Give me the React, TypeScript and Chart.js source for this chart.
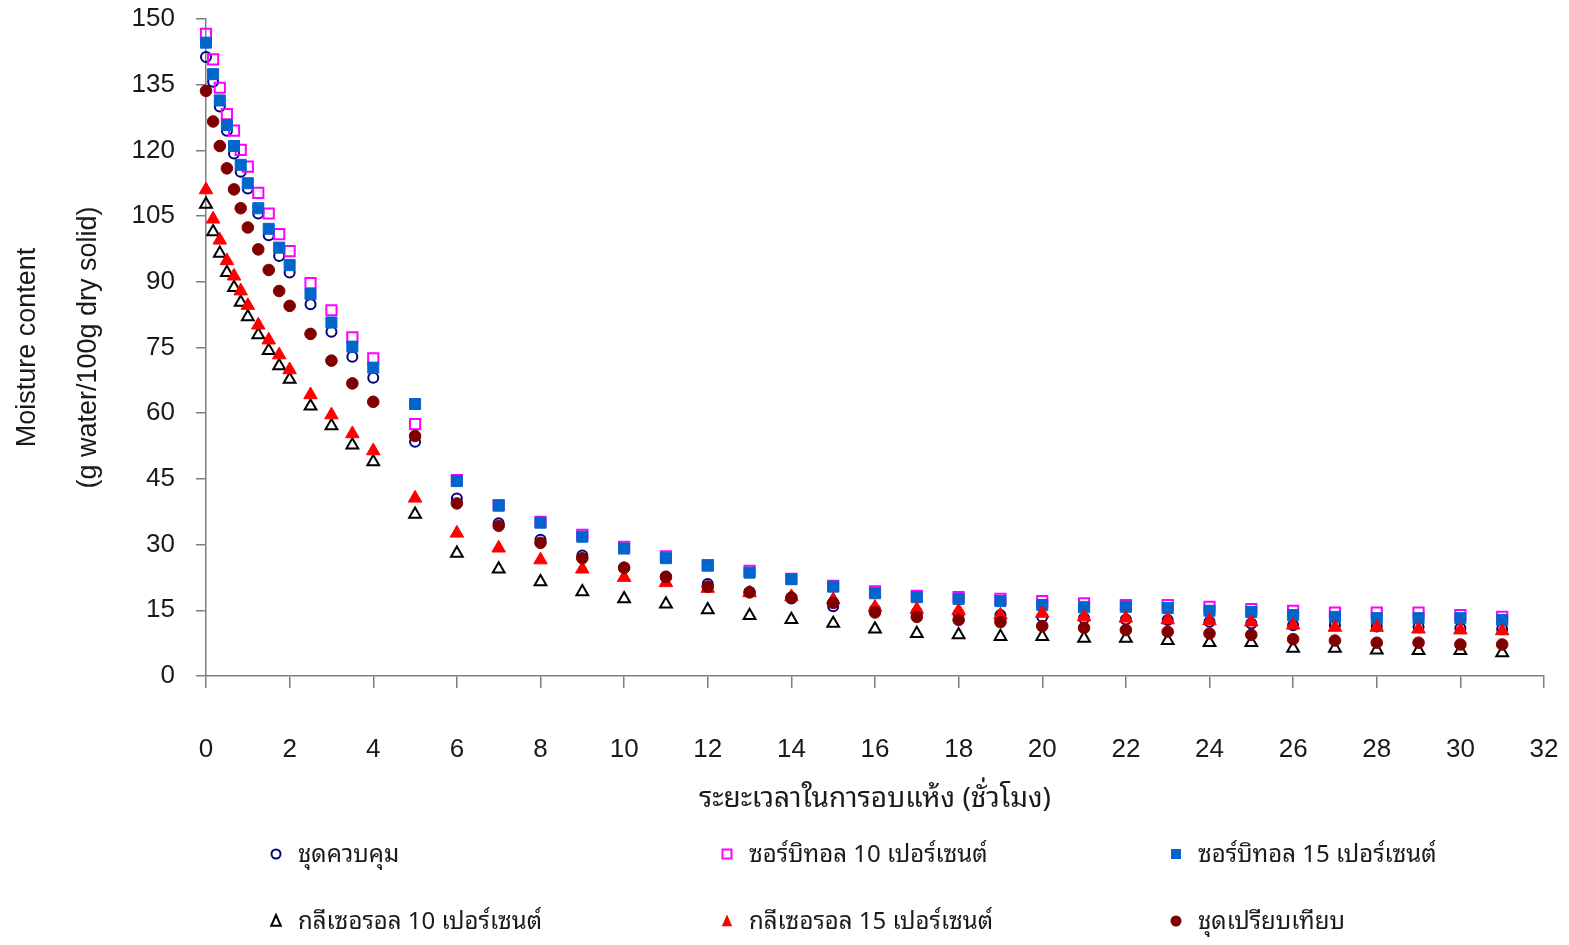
import React, { useEffect, useRef } from 'react';
import { Chart, registerables } from 'chart.js';

Chart.register(...registerables);

// Drying time (hours)
const hours = [
  0, 0.17, 0.33, 0.5, 0.67, 0.83, 1, 1.25, 1.5, 1.75, 2, 2.5, 3, 3.5, 4,
  5, 6, 7, 8, 9, 10, 11, 12, 13, 14, 15, 16, 17, 18, 19, 20, 21, 22, 23, 24,
  25, 26, 27, 28, 29, 30, 31,
];

// Moisture content (g water / 100 g dry solid)
const control = [
  141.3, 135.7, 130.0, 124.5, 119.3, 115.1, 111.3, 105.6, 100.6, 95.9, 92.1, 84.9, 78.6, 72.9, 68.1,
  53.5, 40.5, 34.9, 31.1, 27.5, 24.8, 22.7, 21.0, 19.2, 17.7, 15.9, 15.2, 14.5, 14.2, 13.9, 13.5,
  13.2, 12.9, 12.8, 12.4, 12.0, 11.6, 11.6, 11.3, 11.2, 10.9, 10.7,
];
const sorbitol10 = [
  146.6, 140.8, 134.3, 128.3, 124.5, 120.1, 116.3, 110.3, 105.6, 100.9, 97.0, 89.7, 83.5, 77.3, 72.5,
  57.5, 44.7, 39.0, 35.2, 32.2, 29.5, 27.3, 25.3, 24.0, 22.2, 20.6, 19.3, 18.3, 18.0, 17.6, 17.1,
  16.6, 16.2, 16.2, 15.8, 15.3, 14.9, 14.5, 14.5, 14.5, 13.9, 13.5,
];
const sorbitol15 = [
  144.6, 137.4, 131.4, 125.8, 121.0, 116.7, 112.5, 106.8, 102.1, 97.8, 93.8, 87.2, 80.7, 75.2, 70.4,
  62.1, 44.5, 38.9, 35.0, 31.8, 29.1, 26.9, 25.2, 23.6, 22.1, 20.4, 18.9, 18.0, 17.6, 17.1, 16.2,
  15.7, 15.8, 15.5, 14.9, 14.6, 13.9, 13.5, 13.2, 13.2, 13.2, 12.8,
];
const glycerol10 = [
  107.7, 101.4, 96.5, 92.1, 88.7, 85.3, 82.0, 77.9, 74.3, 70.8, 67.7, 61.6, 57.1, 52.7, 48.9,
  36.9, 28.0, 24.4, 21.5, 19.2, 17.6, 16.4, 15.1, 13.8, 12.9, 12.0, 10.7, 9.7, 9.4, 9.0, 9.0,
  8.6, 8.6, 8.1, 7.6, 7.6, 6.3, 6.3, 5.9, 5.8, 5.8, 5.3,
];
const glycerol15 = [
  111.0, 104.3, 99.5, 94.8, 91.3, 87.9, 84.6, 80.1, 76.7, 73.3, 69.9, 64.2, 59.6, 55.3, 51.4,
  40.6, 32.6, 29.2, 26.5, 24.4, 22.5, 21.3, 20.0, 19.0, 18.1, 17.4, 15.7, 15.2, 14.9, 13.9, 14.3,
  13.5, 13.2, 12.8, 12.6, 12.3, 11.6, 11.1, 11.1, 10.7, 10.5, 10.3,
];
const comparison = [
  133.6, 126.6, 121.0, 115.9, 111.1, 106.8, 102.4, 97.4, 92.7, 87.9, 84.5, 78.1, 72.0, 66.8, 62.6,
  54.8, 39.4, 34.3, 30.4, 26.9, 24.7, 22.6, 20.4, 19.1, 17.9, 16.7, 14.5, 13.5, 12.8, 12.3, 11.4,
  11.0, 10.5, 10.1, 9.7, 9.4, 8.4, 8.1, 7.6, 7.6, 7.2, 7.2,
];

const seriesLabels = [
  'ชุดควบคุม',
  'ซอร์บิทอล 10 เปอร์เซนต์',
  'ซอร์บิทอล 15 เปอร์เซนต์',
  'กลีเซอรอล 10 เปอร์เซนต์',
  'กลีเซอรอล 15 เปอร์เซนต์',
  'ชุดเปรียบเทียบ',
];

const xTitle = 'ระยะเวลาในการอบแห้ง (ชั่วโมง)';
const yTitle = ['Moisture content', '(g water/100g dry solid)'];

const LATIN_FONT = "'Liberation Sans', Arial, sans-serif";
const THAI_FONT =
  "'Noto Sans Thai Looped', Loma, Garuda, Norasi, 'Noto Sans Thai', 'Noto Sans', 'DejaVu Sans', sans-serif";

type MarkerSpec = {
  style: 'circle' | 'rect' | 'triangle';
  radius: number;
  fill: string;
  stroke: string;
  borderWidth: number;
  legendSize: number;
};

const markers: MarkerSpec[] = [
  { style: 'circle', radius: 5, fill: 'rgba(0,0,0,0)', stroke: '#000080', borderWidth: 2, legendSize: 4.5 },
  { style: 'rect', radius: 7.2, fill: 'rgba(0,0,0,0)', stroke: '#FF00FF', borderWidth: 2, legendSize: 4.5 },
  { style: 'rect', radius: 7.8, fill: '#0066CC', stroke: '#0066CC', borderWidth: 1, legendSize: 5 },
  { style: 'triangle', radius: 6.8, fill: 'rgba(0,0,0,0)', stroke: '#000000', borderWidth: 2, legendSize: 6 },
  { style: 'triangle', radius: 7.8, fill: '#FF0000', stroke: '#FF0000', borderWidth: 1, legendSize: 6.5 },
  { style: 'circle', radius: 5.8, fill: '#800000', stroke: '#800000', borderWidth: 1, legendSize: 5.5 },
];

const seriesValues = [control, sorbitol10, sorbitol15, glycerol10, glycerol15, comparison];

function drawLegendMarker(ctx: CanvasRenderingContext2D, m: MarkerSpec, x: number, y: number) {
  const s = m.legendSize;
  ctx.save();
  ctx.beginPath();
  if (m.style === 'circle') {
    ctx.arc(x, y, s, 0, Math.PI * 2);
  } else if (m.style === 'rect') {
    ctx.rect(x - s, y - s, 2 * s, 2 * s);
  } else {
    ctx.moveTo(x, y - s);
    ctx.lineTo(x + s * 0.8, y + s * 0.8);
    ctx.lineTo(x - s * 0.8, y + s * 0.8);
    ctx.closePath();
  }
  const filled = m.fill !== 'rgba(0,0,0,0)';
  if (filled) {
    ctx.fillStyle = m.fill;
    ctx.fill();
  } else {
    ctx.lineWidth = 2;
    ctx.strokeStyle = m.stroke;
    ctx.stroke();
  }
  ctx.restore();
}

// Two rows of three legend entries below the x axis
const gridLegend = {
  id: 'gridLegend',
  afterDraw(chart: any) {
    const ctx: CanvasRenderingContext2D = chart.ctx;
    const cols = [276, 727, 1176];
    const rows = [854, 921];
    ctx.save();
    ctx.font = `24px ${THAI_FONT}`;
    ctx.textBaseline = 'middle';
    ctx.textAlign = 'left';
    seriesLabels.forEach((label, i) => {
      const x = cols[i % 3];
      const y = rows[Math.floor(i / 3)];
      drawLegendMarker(ctx, markers[i], x, y);
      ctx.fillStyle = '#1a1a1a';
      ctx.fillText(label, x + 22, y + 1);
    });
    ctx.restore();
  },
};

export default function App() {
  const canvasRef = useRef<HTMLCanvasElement>(null);

  useEffect(() => {
    const canvas = canvasRef.current;
    if (!canvas) return;

    const datasets = seriesValues.map((values, i) => ({
      label: seriesLabels[i],
      data: values.map((v, j) => ({ x: hours[j], y: v })),
      pointStyle: markers[i].style,
      pointRadius: markers[i].radius,
      pointHoverRadius: markers[i].radius,
      pointBackgroundColor: markers[i].fill,
      pointBorderColor: markers[i].stroke,
      pointBorderWidth: markers[i].borderWidth,
      showLine: false,
      clip: false as const,
      order: seriesValues.length - i,
    }));

    const chart = new Chart(canvas, {
      type: 'scatter',
      data: { datasets },
      options: {
        responsive: false,
        animation: false,
        devicePixelRatio: 1,
        layout: { padding: { left: 0, right: 25, top: 19, bottom: 0 } },
        plugins: {
          legend: { display: false },
          tooltip: { enabled: false },
        },
        scales: {
          x: {
            type: 'linear',
            min: 0,
            max: 32,
            afterFit: (scale: any) => {
              scale.height = 269;
              scale.paddingLeft = 0;
              scale.paddingRight = 0;
            },
            ticks: {
              stepSize: 2,
              padding: 46,
              color: '#1a1a1a',
              font: { family: LATIN_FONT, size: 26 },
              maxRotation: 0,
            },
            grid: {
              display: true,
              drawOnChartArea: false,
              drawTicks: true,
              tickLength: 12,
              color: '#7f7f7f',
              lineWidth: 1.5,
            },
            border: { display: true, color: '#7f7f7f', width: 1.5 },
            title: {
              display: true,
              text: xTitle,
              color: '#1a1a1a',
              font: { family: THAI_FONT, size: 28 },
              padding: { top: 0, bottom: 129 },
            },
          },
          y: {
            type: 'linear',
            min: 0,
            max: 150,
            afterFit: (scale: any) => {
              scale.width = 206;
              scale.paddingTop = 0;
              scale.paddingBottom = 0;
            },
            ticks: {
              stepSize: 15,
              padding: 21,
              color: '#1a1a1a',
              font: { family: LATIN_FONT, size: 26 },
            },
            grid: {
              display: true,
              drawOnChartArea: false,
              drawTicks: true,
              tickLength: 10,
              color: '#7f7f7f',
              lineWidth: 1.5,
            },
            border: { display: true, color: '#7f7f7f', width: 1.5 },
            title: {
              display: true,
              text: yTitle,
              color: '#1a1a1a',
              font: { family: LATIN_FONT, size: 27, lineHeight: '61px' },
              padding: { top: -3, bottom: 0 },
            },
          },
        },
      },
      plugins: [gridLegend],
    });

    return () => chart.destroy();
  }, []);

  return (
    <div style={{ position: 'fixed', left: 0, top: 0, width: 1569, height: 945, background: '#ffffff' }}>
      <canvas ref={canvasRef} width={1569} height={945} style={{ display: 'block' }} />
    </div>
  );
}
